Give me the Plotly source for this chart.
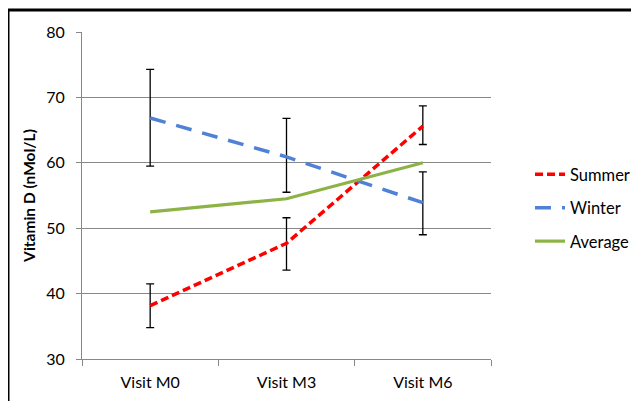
import plotly.graph_objects as go

categories = ["Visit M0", "Visit M3", "Visit M6"]
summer = [38.15, 47.7, 65.6]
summer_hi = [41.5, 51.6, 68.7]
summer_lo = [34.8, 43.6, 62.8]
winter = [66.85, 60.9, 53.9]
winter_hi = [74.3, 66.8, 58.6]
winter_lo = [59.5, 55.5, 49.0]
average = [52.5, 54.5, 60.0]
y_ticks = [30, 40, 50, 60, 70, 80]

FONT = "Lato, Open Sans, sans-serif"

def err(vals, hi, lo):
    return dict(type="data", symmetric=False,
                array=[h - v for h, v in zip(hi, vals)],
                arrayminus=[v - l for v, l in zip(vals, lo)],
                color="black", thickness=1.3, width=4)

fig = go.Figure()
fig.add_trace(go.Scatter(x=categories, y=summer, name="Summer", mode="lines",
                         line=dict(color="#FF0000", width=3.5, dash="8px,4px"),
                         error_y=err(summer, summer_hi, summer_lo), legendgroup="a"))
fig.add_trace(go.Scatter(x=categories, y=winter, name="Winter", mode="lines",
                         line=dict(color="#4F81D5", width=3.5, dash="16px,11px"),
                         error_y=err(winter, winter_hi, winter_lo), legendgroup="b"))
fig.add_trace(go.Scatter(x=categories, y=average, name="Average", mode="lines",
                         line=dict(color="#8DB346", width=3.2), legendgroup="c"))

OFF = 8  # page body margin
W, H = 639 - 2 * OFF, 415 - 2 * OFF - 6
L, T = 82 - OFF, 32 - OFF
pw, ph = 409, 327
R, B = W - L - pw, H - T - ph

# chart border (top and left edges visible; right/bottom are cropped in the reference)
bx0, bx1 = (8 - 82) / pw, (W + OFF - 82) / pw
by0, by1 = (T + ph - H) / ph - 0.01, 1 + (32 - 10) / ph
fig.add_shape(type="line", xref="paper", yref="paper", x0=bx0, x1=bx1, y0=by1, y1=by1,
              line=dict(color="black", width=3), layer="above")
fig.add_shape(type="line", xref="paper", yref="paper", x0=bx0, x1=bx0, y0=by0, y1=by1,
              line=dict(color="black", width=3), layer="above")

fig.update_layout(
    width=W, height=H,
    margin=dict(l=L, r=R, t=T, b=B, autoexpand=False),
    paper_bgcolor="white", plot_bgcolor="white",
    font=dict(family=FONT, size=16, color="black"),
    showlegend=True,
    legend=dict(x=(530 - 82) / pw, y=1 - (208 - 32) / ph, xanchor="left", yanchor="middle",
                tracegroupgap=9, font=dict(size=16.5), bgcolor="rgba(0,0,0,0)"),
    xaxis=dict(type="category", range=[-0.5, 2.5], showgrid=False, automargin=False,
               showline=True, linecolor="#888888", linewidth=1.2,
               ticks="outside", tickson="boundaries", ticklen=6, tickcolor="#888888",
               ticklabelstandoff=9, tickfont=dict(size=16)),
    yaxis=dict(range=[30, 80], tickvals=y_ticks, showgrid=True, gridcolor="#888888",
               gridwidth=1.2, showline=True, linecolor="#888888", linewidth=1.2,
               ticks="outside", ticklen=5, tickcolor="#888888", ticklabelstandoff=8,
               zeroline=False, tickfont=dict(size=16), automargin=False,
               title=dict(text="<b>Vitamin D (nMol/L)</b>", font=dict(size=15.5), standoff=6)),
)

fig.write_html("out.html")
